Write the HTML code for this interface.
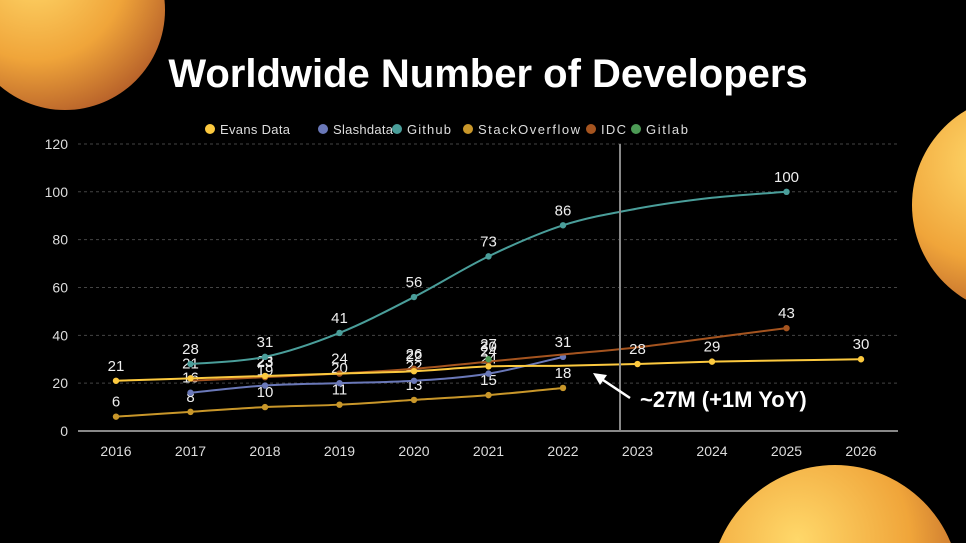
<!DOCTYPE html><html><head><style>
html,body{margin:0;background:#000;width:966px;height:543px;overflow:hidden;font-family:"Liberation Sans",sans-serif}
svg{display:block;overflow:hidden}
</style></head><body>
<svg id="s" width="966" height="543" xmlns="http://www.w3.org/2000/svg" font-family="Liberation Sans, sans-serif">
<defs>
<radialGradient id="g" cx="35%" cy="30%" r="75%"><stop offset="0" stop-color="#ffd86a"/><stop offset="0.6" stop-color="#f0a53a"/><stop offset="1" stop-color="#b8622a"/></radialGradient>
<clipPath id="c"><rect width="966" height="543"/></clipPath>
</defs>
<g clip-path="url(#c)">
<circle cx="65" cy="10" r="100" fill="url(#g)"/>
<circle cx="1022" cy="205" r="110" fill="url(#g)"/>
<circle cx="835" cy="590" r="125" fill="url(#g)"/>
</g>
<text x="488" y="87" text-anchor="middle" fill="#fff" font-size="40" font-weight="bold">Worldwide Number of Developers</text>
<g id="grid"></g>
<g font-size="13" fill="#ddd">
<circle cx="210" cy="129" r="5" fill="#fcc93f"/><text x="220" y="134" textLength="70">Evans Data</text>
<circle cx="323" cy="129" r="5" fill="#6a78b8"/><text x="333" y="134" textLength="60">Slashdata</text>
<circle cx="397" cy="129" r="5" fill="#4a9e9a"/><text x="407" y="134" textLength="44">Github</text>
<circle cx="468" cy="129" r="5" fill="#c9972a"/><text x="478" y="134" textLength="102">StackOverflow</text>
<circle cx="591" cy="129" r="5" fill="#a5541f"/><text x="601" y="134" textLength="25">IDC</text>
<circle cx="636" cy="129" r="5" fill="#4c9a55"/><text x="646" y="134" textLength="42">Gitlab</text>
</g>
<g id="series"></g>
<line x1="620" y1="144" x2="620" y2="431" stroke="#888" stroke-width="2"/>
<line x1="630" y1="398" x2="600" y2="378" stroke="#fff" stroke-width="2.5"/>
<polygon points="593,373 607,375 600,385" fill="#fff"/>
<text x="640" y="407" fill="#fff" font-size="22" font-weight="bold">~27M (+1M YoY)</text>
</svg>
<script>
const X=y=>116+(y-2016)*74.5, Y=v=>431-v*2.392;
let g='';
for(let v=0;v<=120;v+=20){let y=Y(v);
 g+=`<line x1="78" x2="898" y1="${y}" y2="${y}" stroke="${v?'#444':'#888'}" stroke-width="${v?1:2}" ${v?'stroke-dasharray="3,3"':''}/>`;
 g+=`<text x="68" y="${y+5}" text-anchor="end" fill="#ddd" font-size="14">${v}</text>`;}
for(let yr=2016;yr<=2026;yr++)g+=`<text x="${X(yr)}" y="456" text-anchor="middle" fill="#ddd" font-size="14">${yr}</text>`;
document.getElementById('grid').innerHTML=g;
function path(p){let d=`M${p[0][0]},${p[0][1]}`;for(let i=0;i<p.length-1;i++){const p0=p[i-1]||p[i],p1=p[i],p2=p[i+1],p3=p[i+2]||p2;
 d+=` C${p1[0]+(p2[0]-p0[0])/6},${p1[1]+(p2[1]-p0[1])/6} ${p2[0]-(p3[0]-p1[0])/6},${p2[1]-(p3[1]-p1[1])/6} ${p2[0]},${p2[1]}`;}return d;}
const S=[
['#c9972a',[[2016,6],[2017,8],[2018,10],[2019,11],[2020,13],[2021,15],[2022,18]],[6,8,10,11,13,15,18]],
['#6a78b8',[[2017,16],[2018,19],[2019,20],[2020,21],[2021,24],[2022,31]],[16,19,20,22,24,31]],
['#a5541f',[[2017,21],[2018,22.5],[2019,24],[2020,26],[2021,29],[2022,32],[2023,35],[2024,39],[2025,43]],[null,23,24,26,30,null,null,null,43]],
['#fcc93f',[[2016,21],[2017,22],[2018,23],[2019,24],[2020,25],[2021,27],[2022,27.3],[2023,28],[2024,29],[2025,29.5],[2026,30]],[21,21,23,null,22,24,null,28,29,null,30]],
['#4c9a55',[[2021,30]],[27]],
['#4a9e9a',[[2017,28],[2018,31],[2019,41],[2020,56],[2021,73],[2022,86],[2023,93],[2024,97.5],[2025,100]],[28,31,41,56,73,86,null,null,100]]];
let s='';
for(const [c,pts,lab] of S){const p=pts.map(q=>[X(q[0]),Y(q[1])]);
 if(p.length>1)s+=`<path d="${path(p)}" fill="none" stroke="${c}" stroke-width="2"/>`;
 const show=c=='#a5541f'?[1,2,3,4,8]:c=='#4a9e9a'?[0,1,2,3,4,5,8]:c=='#fcc93f'?[0,1,2,4,5,7,8,10]:pts.map((_,i)=>i);
 show.forEach(i=>{s+=`<circle cx="${p[i][0]}" cy="${p[i][1]}" r="3.2" fill="${c}"/>`;
  if(lab[i]!=null)s+=`<text x="${p[i][0]}" y="${p[i][1]-10}" text-anchor="middle" fill="#eee" font-size="15">${lab[i]}</text>`;});}
document.getElementById('series').innerHTML=s;
</script>
</body></html>
